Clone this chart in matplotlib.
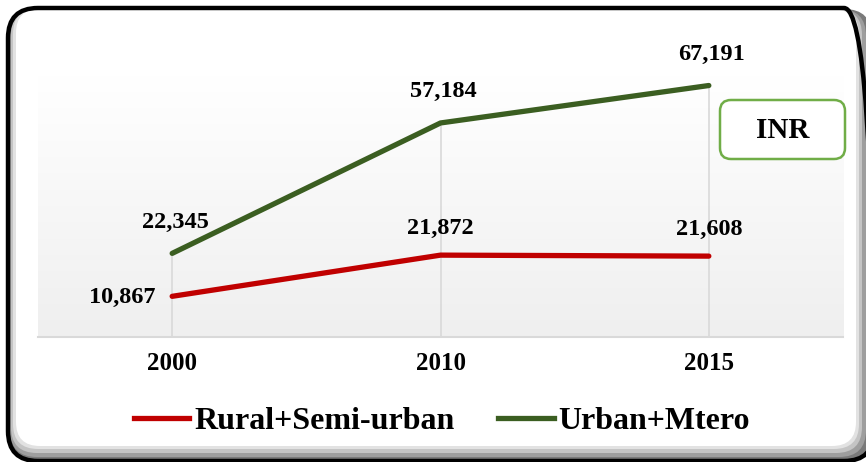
import matplotlib
matplotlib.use("Agg")
import matplotlib.pyplot as plt
import numpy as np
from matplotlib.patches import FancyBboxPatch
from matplotlib.lines import Line2D

years = ["2000", "2010", "2015"]
rural = [10867, 21872, 21608]
urban = [22345, 57184, 67191]
series_names = ["Rural+Semi-urban", "Urban+Mtero"]
unit_label = "INR"

RED = "#c00000"
GREEN = "#3b5e21"
FONT = "Liberation Serif"

W, H = 866, 462
fig = plt.figure(figsize=(W / 100, H / 100), dpi=100)
fig.patch.set_facecolor("white")

def fx(px):
    return px / W
def fy(py):
    return 1 - py / H

def rbox(x0, y0, x1, y1, r, **kw):
    p = FancyBboxPatch((fx(x0), fy(y1)), fx(x1 - x0), (y1 - y0) / H,
                       boxstyle=f"round,pad=0,rounding_size={r / W}",
                       transform=fig.transFigure, mutation_aspect=W / H, **kw)
    fig.patches.append(p)
    return p

# outer frame: bevel shadow + white panel + black border
rbox(9, 9, 872, 460, 28, facecolor="#7a7a7a", edgecolor="none", zorder=0)
rbox(10, 9, 866, 457, 27, facecolor="#9e9e9e", edgecolor="none", zorder=0.1)
rbox(11, 9, 862, 453, 26, facecolor="#c4c4c4", edgecolor="none", zorder=0.2)
rbox(13, 9, 859, 449, 25, facecolor="#e2e2e2", edgecolor="none", zorder=0.3)
rbox(16, 9, 856, 446, 24, facecolor="white", edgecolor="none", zorder=0.5)
rbox(8, 8, 874, 461, 30, facecolor="none", edgecolor="black", linewidth=3.2, zorder=1)

ax = fig.add_axes([38 / W, (H - 337) / H, (843 - 38) / W, (337 - 75) / H])
ax.set_zorder(3)
ax.set_facecolor("none")
x = np.arange(len(years))
ax.set_xlim(-0.5, len(years) - 0.5)
ax.set_ylim(0, 70000)

# gradient background
grad = np.linspace(1, 0, 256).reshape(-1, 1)
ax.imshow(grad, extent=[-0.5, len(years) - 0.5, 0, 70000], aspect="auto",
          cmap=matplotlib.colors.LinearSegmentedColormap.from_list(
              "g", ["#efefef", "#ffffff"]), vmin=0, vmax=1, zorder=0)

# drop lines
tops = [max(a, b) for a, b in zip(rural, urban)]
ax.vlines(x, 0, tops, colors="#d9d9d9", linewidth=1.2, zorder=1)

ax.plot(x, rural, color=RED, linewidth=3.8, solid_capstyle="round", zorder=3)
ax.plot(x, urban, color=GREEN, linewidth=3.8, solid_capstyle="round", zorder=3)

lab = dict(fontfamily=FONT, fontweight="bold", fontsize=17.5, color="black")
for i, v in enumerate(urban):
    ax.annotate(f"{v:,}", (x[i], v), xytext=(2, 15), textcoords="offset points",
                ha="center", va="bottom", **lab)
for i, v in enumerate(rural):
    if i == 0:
        ax.annotate(f"{v:,}", (x[i], v), xytext=(-12, -1), textcoords="offset points",
                    ha="right", va="center", **lab)
    else:
        ax.annotate(f"{v:,}", (x[i], v), xytext=(0, 12), textcoords="offset points",
                    ha="center", va="bottom", **lab)

for s in ["top", "right", "left"]:
    ax.spines[s].set_visible(False)
ax.spines["bottom"].set_color("#d9d9d9")
ax.spines["bottom"].set_linewidth(1.5)
ax.set_yticks([])
ax.set_xticks(x)
ax.set_xticklabels(years, fontfamily=FONT, fontweight="bold", fontsize=18)
ax.tick_params(axis="x", length=0, pad=11)

# INR box
rbox(720, 100, 845, 159, 11, facecolor="white", edgecolor="#70ad47",
     linewidth=1.8, zorder=4)
fig.text(782.5 / W, 1 - 131 / H, unit_label, ha="center", va="center",
         fontfamily=FONT, fontweight="bold", fontsize=21, zorder=5)

handles = [Line2D([], [], color=RED, linewidth=3.8),
           Line2D([], [], color=GREEN, linewidth=3.8)]
leg = fig.legend(handles, series_names, loc="center", bbox_to_anchor=(0.51, 1 - 421 / H),
                 ncol=2, frameon=False, handlelength=1.75, handletextpad=0.15,
                 columnspacing=1.35, prop=dict(family=FONT, weight="bold", size=23))
leg.set_zorder(5)

fig.savefig("out.png", dpi=100)
